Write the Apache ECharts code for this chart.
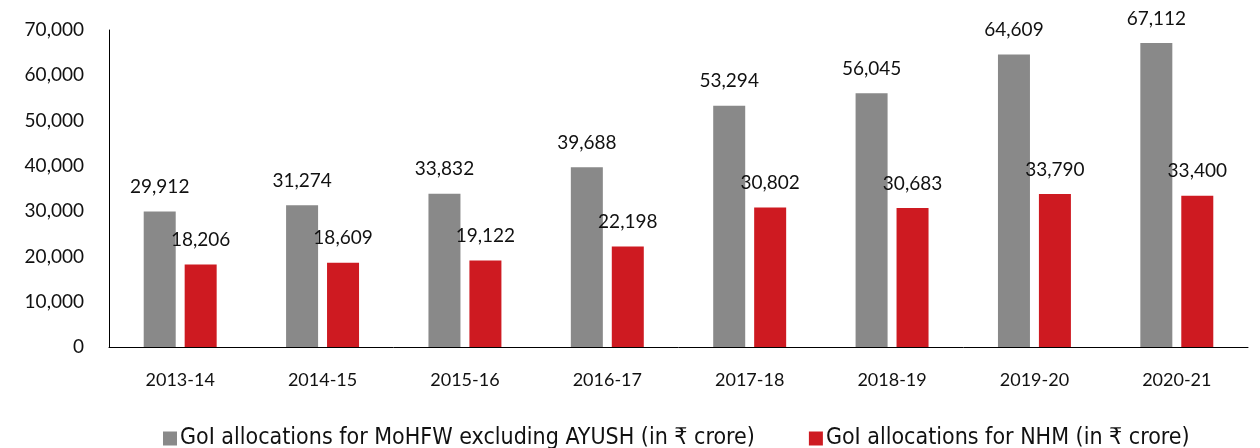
<!DOCTYPE html>
<html>
<head>
<meta charset="utf-8">
<script src="https://cdn.jsdelivr.net/npm/echarts@6/dist/echarts.min.js"></script>
<style>
  html, body { margin: 0; padding: 0; background: #fff; }
  #chart { width: 1260px; height: 448px; }
</style>
</head>
<body>
<div id="chart"></div>
<script>
// 年份
var years = ['2013-14', '2014-15', '2015-16', '2016-17', '2017-18', '2018-19', '2019-20', '2020-21'];
// MoHFW (excluding AYUSH)
var mohfw = [29912, 31274, 33832, 39688, 53294, 56045, 64609, 67112];
// NHM
var nhm = [18206, 18609, 19122, 22198, 30802, 30683, 33790, 33400];
var yTicks = [0, 10000, 20000, 30000, 40000, 50000, 60000, 70000];

var chart = echarts.init(document.getElementById('chart'));
var font = 'Lato, "Open Sans", sans-serif';

function fmt(v) {
    return v.toLocaleString('en-US');
}

var labelStyle = {
    show: true,
    position: 'top',
    distance: 15,
    color: '#111',
    fontSize: 19,
    fontFamily: font,
    formatter: function (p) { return fmt(p.value); }
};

var option = {
    backgroundColor: '#fff',
    animation: false,
    grid: {
        left: 109,
        right: 12,
        top: 30,
        bottom: 101
    },
    legend: {
        bottom: -7,
        left: 158,
        itemWidth: 14,
        itemHeight: 14,
        itemGap: 54,
        icon: 'rect',
        textStyle: {
            color: '#111',
            fontSize: 23,
            padding: [0, 0, 0, -2],
            fontFamily: '"DejaVu Sans Condensed", "Liberation Sans Narrow", sans-serif'
        },
        data: ['GoI allocations for MoHFW excluding AYUSH (in ₹ crore)', 'GoI allocations for NHM (in ₹ crore)']
    },
    xAxis: {
        type: 'category',
        data: years,
        axisLine: { lineStyle: { color: '#000', width: 1 } },
        axisTick: { show: false },
        axisLabel: {
            color: '#111',
            fontSize: 18,
            fontFamily: font,
            margin: 24
        }
    },
    yAxis: {
        type: 'value',
        min: yTicks[0],
        max: yTicks[yTicks.length - 1],
        interval: 10000,
        splitLine: { show: false },
        axisLine: { show: true, lineStyle: { color: '#000', width: 1 } },
        axisTick: { show: false },
        axisLabel: {
            color: '#111',
            fontSize: 19,
            fontFamily: font,
            margin: 25,
            formatter: function (v) { return fmt(v); }
        }
    },
    series: [
        {
            name: 'GoI allocations for MoHFW excluding AYUSH (in ₹ crore)',
            type: 'bar',
            data: mohfw,
            barWidth: 32,
            barGap: '28%',
            itemStyle: { color: '#898989' },
            label: labelStyle
        },
        {
            name: 'GoI allocations for NHM (in ₹ crore)',
            type: 'bar',
            data: nhm,
            barWidth: 32,
            itemStyle: { color: '#CE1A21' },
            label: labelStyle
        }
    ]
};

chart.setOption(option);
</script>
</body>
</html>
